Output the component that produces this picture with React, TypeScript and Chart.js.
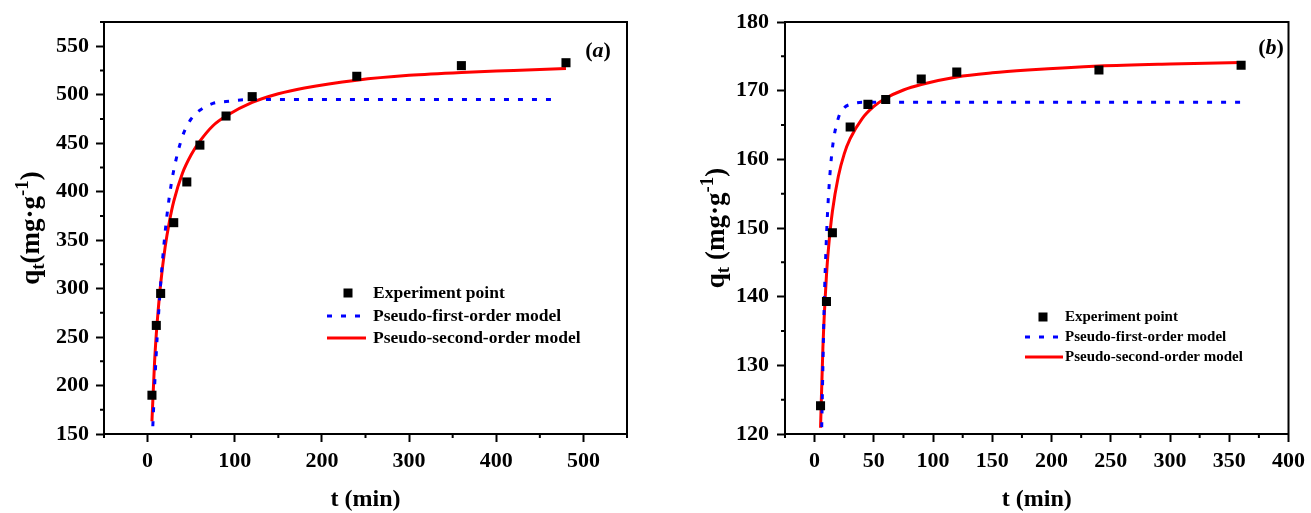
import React, { useEffect, useRef } from "react";
import { Chart, registerables } from "chart.js";
Chart.register(...registerables);

const FONT = '"Liberation Serif", "Times New Roman", serif';

// ---------- Panel (a) data ----------
const timeA = [5, 10, 15, 30, 45, 60, 90, 120, 240, 360, 480];
const qExpA = [190, 262, 295, 368, 410, 448, 478, 498, 519, 530, 533];
const timePfoA = [6, 8, 10, 12, 15, 20, 25, 30, 40, 50, 60, 75, 90, 120, 150, 200, 300, 400, 470];
const qPfoA = [158, 198, 234, 265, 305, 357, 395, 422, 457, 475, 484, 491, 493, 495, 495, 495, 495, 495, 495];
const timePsoA = [5, 8, 10, 12, 15, 20, 25, 30, 40, 50, 60, 75, 90, 120, 150, 180, 240, 300, 360, 420, 480];
const qPsoA = [163, 224, 253, 276, 305, 342, 369, 390, 419, 438, 452, 468, 478, 492, 501, 507, 515, 520, 523, 525, 527];
const xMajorA = [0, 100, 200, 300, 400, 500];
const xMinorA = [-50, 50, 150, 250, 350, 450, 550];
const yMajorA = [150, 200, 250, 300, 350, 400, 450, 500, 550];
const yMinorA = [175, 225, 275, 325, 375, 425, 475, 525, 575];

// ---------- Panel (b) data ----------
const timeB = [5, 10, 15, 30, 45, 60, 90, 120, 240, 360];
const qExpB = [124.1, 139.3, 149.3, 164.7, 168.0, 168.7, 171.7, 172.7, 173.0, 173.7];
const timePfoB = [6, 8, 10, 12, 15, 20, 25, 30, 40, 60, 120, 240, 360];
const qPfoB = [121, 138.2, 148.7, 155.5, 161.6, 166.0, 167.5, 168.0, 168.3, 168.3, 168.3, 168.3, 168.3];
const timePsoB = [5, 7, 10, 12, 15, 20, 25, 30, 40, 50, 60, 75, 90, 120, 150, 180, 240, 300, 360];
const qPsoB = [120.9, 132.6, 143.1, 147.6, 152.4, 157.5, 160.8, 163.0, 165.9, 167.7, 168.9, 170.1, 170.9, 172.0, 172.6, 173.0, 173.6, 173.9, 174.1];
const xMajorB = [0, 50, 100, 150, 200, 250, 300, 350, 400];
const xMinorB = [-25, 25, 75, 125, 175, 225, 275, 325, 375];
const yMajorB = [120, 130, 140, 150, 160, 170, 180];
const yMinorB = [125, 135, 145, 155, 165, 175];

const seriesLabels = ["Experiment point", "Pseudo-first-order model", "Pseudo-second-order model"];

type Seg = { t: string; s: number; dy: number; italic?: boolean };

function drawRich(ctx: CanvasRenderingContext2D, segs: Seg[], x: number, y: number, align: "center" | "left") {
  let total = 0;
  const widths = segs.map((g) => {
    ctx.font = `${g.italic ? "italic " : ""}bold ${g.s}px ${FONT}`;
    const w = ctx.measureText(g.t).width;
    total += w;
    return w;
  });
  let cx = align === "center" ? x - total / 2 : x;
  ctx.textAlign = "left";
  ctx.textBaseline = "alphabetic";
  segs.forEach((g, i) => {
    ctx.font = `${g.italic ? "italic " : ""}bold ${g.s}px ${FONT}`;
    ctx.fillText(g.t, cx, y + g.dy);
    cx += widths[i];
  });
}

function pts(xs: number[], ys: number[]) {
  return xs.map((x, i) => ({ x, y: ys[i] }));
}

function KineticChart({ cfg }: { cfg: any }) {
  const ref = useRef<HTMLCanvasElement>(null);
  useEffect(() => {
    const decor = {
      id: "decor",
      afterDraw(chart: any) {
        const { ctx, chartArea: a, scales } = chart;
        ctx.save();
        ctx.strokeStyle = "#000";
        ctx.lineWidth = 2;
        ctx.setLineDash([]);
        ctx.strokeRect(a.left, a.top, a.right - a.left, a.bottom - a.top);
        ctx.beginPath();
        cfg.xMinor.forEach((v: number) => {
          const px = scales.x.getPixelForValue(v);
          ctx.moveTo(px, a.bottom);
          ctx.lineTo(px, a.bottom + 4);
        });
        cfg.yMinor.forEach((v: number) => {
          const py = scales.y.getPixelForValue(v);
          ctx.moveTo(a.left, py);
          ctx.lineTo(a.left - 4, py);
        });
        ctx.stroke();
        ctx.fillStyle = "#000";
        // x title
        drawRich(ctx, [{ t: "t (min)", s: 24, dy: 0 }], (a.left + a.right) / 2, cfg.xTitleY, "center");
        // y title
        ctx.save();
        ctx.translate(cfg.yTitleX, (a.top + a.bottom) / 2);
        ctx.rotate(-Math.PI / 2);
        drawRich(ctx, cfg.yTitle, 0, 0, "center");
        ctx.restore();
        // panel label
        drawRich(
          ctx,
          [
            { t: "(", s: 22, dy: 0 },
            { t: cfg.panel, s: 22, dy: 0, italic: true },
            { t: ")", s: 22, dy: 0 },
          ],
          cfg.panelX,
          cfg.panelY,
          "center"
        );
        // legend
        const L = cfg.legend;
        const ds = chart.data.datasets;
        ctx.fillStyle = "#000";
        ctx.fillRect(L.markX - 4.5, L.rows[0] - 4.5, 9, 9);
        ctx.lineWidth = 3;
        ctx.strokeStyle = ds[1].borderColor;
        ctx.setLineDash([5, 9]);
        ctx.beginPath();
        ctx.moveTo(L.lineX0, L.rows[1]);
        ctx.lineTo(L.lineX1, L.rows[1]);
        ctx.stroke();
        ctx.setLineDash([]);
        ctx.strokeStyle = ds[2].borderColor;
        ctx.beginPath();
        ctx.moveTo(L.lineX0, L.rows[2]);
        ctx.lineTo(L.lineX1 + 5, L.rows[2]);
        ctx.stroke();
        ctx.fillStyle = "#000";
        ctx.font = `bold ${L.size}px ${FONT}`;
        ctx.textAlign = "left";
        ctx.textBaseline = "middle";
        ds.forEach((d: any, i: number) => ctx.fillText(d.label, L.textX, L.rows[i]));
        ctx.restore();
      },
    };

    const tickFont = { family: FONT, size: 22, weight: "bold" as const };
    const chart = new Chart(ref.current!, {
      type: "scatter",
      data: {
        datasets: [
          {
            label: seriesLabels[0],
            data: pts(cfg.tExp, cfg.qExp),
            showLine: false,
            pointStyle: "rect",
            pointRadius: 6.4,
            pointHoverRadius: 6.4,
            backgroundColor: "#000000",
            borderColor: "#000000",
            borderWidth: 0,
          },
          {
            label: seriesLabels[1],
            data: pts(cfg.tPfo, cfg.qPfo),
            showLine: true,
            pointRadius: 0,
            borderColor: "#0000ff",
            backgroundColor: "#0000ff",
            borderWidth: 3,
            borderDash: [5, 9],
            cubicInterpolationMode: "monotone",
          },
          {
            label: seriesLabels[2],
            data: pts(cfg.tPso, cfg.qPso),
            showLine: true,
            pointRadius: 0,
            borderColor: "#ff0000",
            backgroundColor: "#ff0000",
            borderWidth: 3,
            cubicInterpolationMode: "monotone",
          },
        ],
      },
      options: {
        animation: false,
        responsive: false,
        devicePixelRatio: 1,
        layout: { padding: { left: 0, top: cfg.padTop, right: cfg.padRight, bottom: 0 } },
        plugins: { legend: { display: false }, tooltip: { enabled: false } },
        scales: {
          x: {
            type: "linear",
            position: "bottom",
            min: cfg.xMin,
            max: cfg.xMax,
            afterBuildTicks: (s: any) => {
              s.ticks = cfg.xMajor.map((v: number) => ({ value: v }));
            },
            afterFit: (s: any) => {
              s.height = cfg.xAxisH;
            },
            grid: { drawOnChartArea: false, drawTicks: true, tickLength: 8, tickWidth: 2, tickColor: "#000" },
            border: { display: true, color: "#000", width: 2 },
            ticks: { color: "#000", font: tickFont, padding: 6, maxRotation: 0, minRotation: 0, autoSkip: false },
          },
          y: {
            type: "linear",
            position: "left",
            min: cfg.yMin,
            max: cfg.yMax,
            afterBuildTicks: (s: any) => {
              s.ticks = cfg.yMajor.map((v: number) => ({ value: v }));
            },
            afterFit: (s: any) => {
              s.width = cfg.yAxisW;
            },
            grid: { drawOnChartArea: false, drawTicks: true, tickLength: 8, tickWidth: 2, tickColor: "#000" },
            border: { display: true, color: "#000", width: 2 },
            ticks: { color: "#000", font: tickFont, padding: cfg.yPad, autoSkip: false },
          },
        },
      },
      plugins: [decor],
    } as any);
    return () => chart.destroy();
  }, []);
  return (
    <canvas
      ref={ref}
      width={cfg.w}
      height={513}
      style={{ position: "absolute", left: cfg.left, top: 0, width: cfg.w, height: 513 }}
    />
  );
}

const cfgA = {
  left: 0,
  w: 655,
  tExp: timeA,
  qExp: qExpA,
  tPfo: timePfoA,
  qPfo: qPfoA,
  tPso: timePsoA,
  qPso: qPsoA,
  xMin: -50,
  xMax: 550,
  yMin: 150,
  yMax: 575,
  xMajor: xMajorA,
  xMinor: xMinorA,
  yMajor: yMajorA,
  yMinor: yMinorA,
  padTop: 22,
  padRight: 28,
  xAxisH: 79,
  yAxisW: 104,
  yPad: 7,
  xTitleY: 506,
  yTitleX: 39,
  yTitle: [
    { t: "q", s: 27, dy: 0 },
    { t: "t", s: 19, dy: 5 },
    { t: "(mg·g", s: 27, dy: 0 },
    { t: "-1", s: 19, dy: -11 },
    { t: ")", s: 27, dy: 0 },
  ],
  panel: "a",
  panelX: 598,
  panelY: 57,
  legend: { markX: 348, rows: [293, 316, 338], textX: 373, lineX0: 327, lineX1: 361, size: 17.5 },
};

const cfgB = {
  left: 655,
  w: 656,
  tExp: timeB,
  qExp: qExpB,
  tPfo: timePfoB,
  qPfo: qPfoB,
  tPso: timePsoB,
  qPso: qPsoB,
  xMin: -25,
  xMax: 400,
  yMin: 120,
  yMax: 180,
  xMajor: xMajorB,
  xMinor: xMinorB,
  yMajor: yMajorB,
  yMinor: yMinorB,
  padTop: 22,
  padRight: 18,
  xAxisH: 79,
  yAxisW: 130,
  yPad: 8,
  xTitleY: 506,
  yTitleX: 69,
  yTitle: [
    { t: "q", s: 27, dy: 0 },
    { t: "t", s: 19, dy: 5 },
    { t: " (mg·g", s: 27, dy: 0 },
    { t: "-1", s: 19, dy: -11 },
    { t: ")", s: 27, dy: 0 },
  ],
  panel: "b",
  panelX: 616,
  panelY: 54,
  legend: { markX: 388, rows: [317, 337, 357], textX: 410, lineX0: 370, lineX1: 403, size: 15 },
};

export default function App() {
  return (
    <div style={{ position: "absolute", left: 0, top: 0, width: 1311, height: 513, background: "#fff" }}>
      <KineticChart cfg={cfgA} />
      <KineticChart cfg={cfgB} />
    </div>
  );
}
